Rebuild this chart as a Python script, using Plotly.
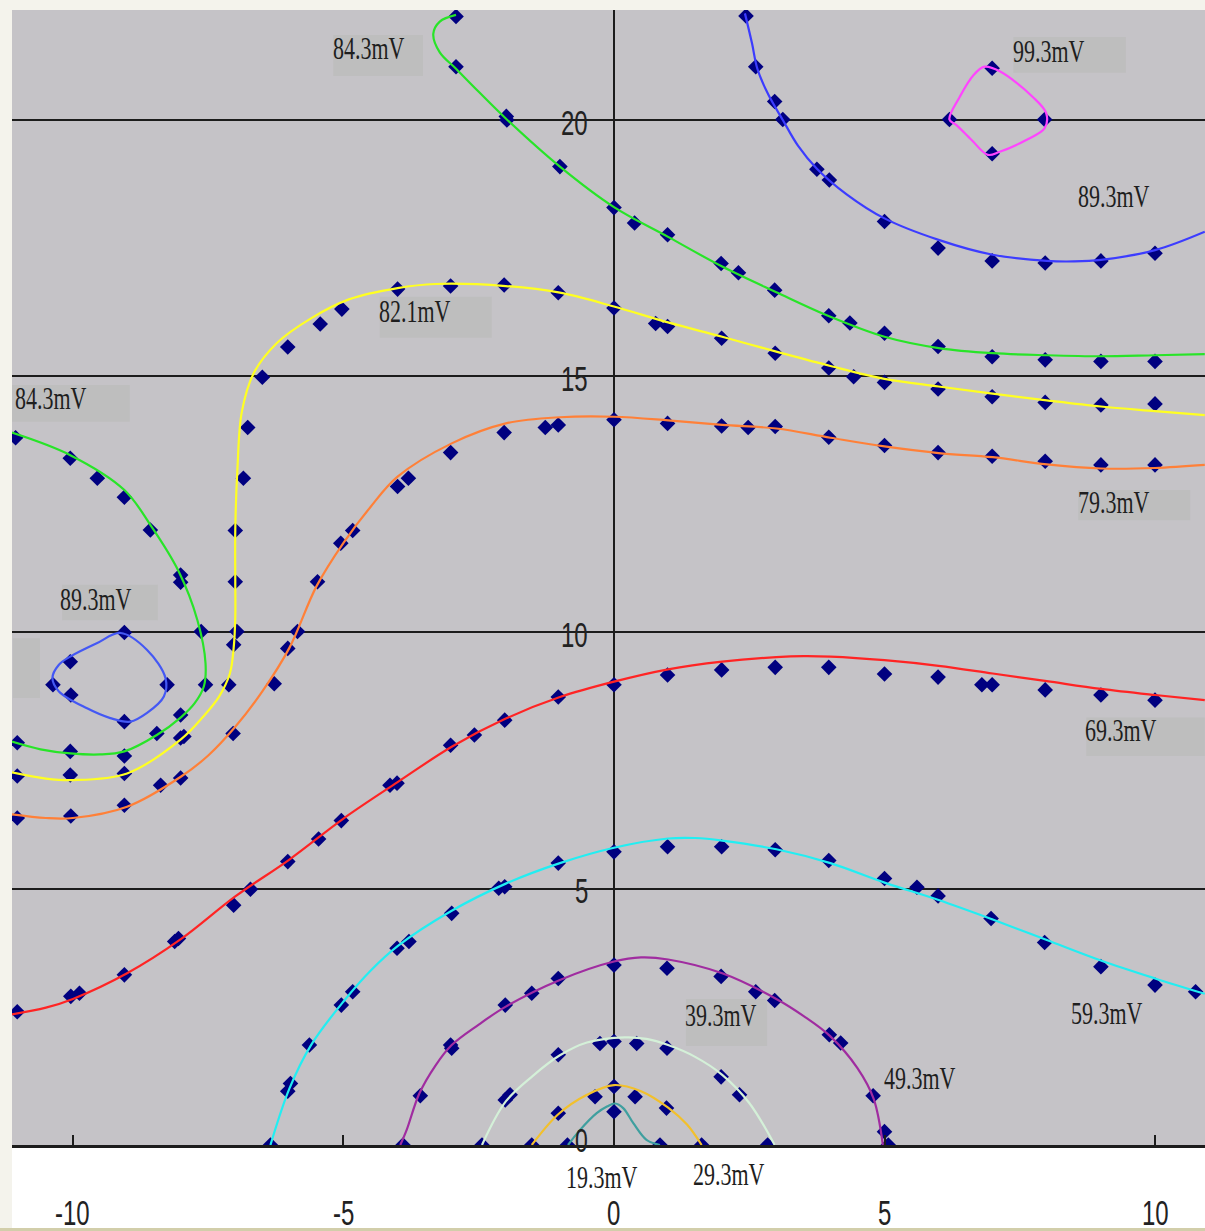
import plotly.graph_objects as go

# ---------------- measured points (x, y) for each equipotential ----------------
P193_X = [-0.86, 0.0, 0.85]
P193_Y = [0.0, 0.65, 0.0]

P293_X = [-1.52, -1.03, -0.35, 0.0, 0.39, 0.97, 1.62]
P293_Y = [0.0, 0.62, 0.94, 1.14, 0.94, 0.72, 0.0]

P393_X = [-2.44, -2.01, -1.92, -1.03, -0.26, 0.0, 0.42, 0.98, 1.98, 2.32, 2.84]
P393_Y = [0.0, 0.88, 0.98, 1.76, 1.98, 2.02, 1.98, 1.89, 1.33, 0.98, 0.0]

P493_X = [-3.9, -3.58, -3.02, -3.0, -2.01, -1.52, -1.03, 0.0, 0.98, 1.98, 2.62,
          2.97, 3.98, 4.19, 4.79, 5.0, 5.07]
P493_Y = [0.0, 0.96, 1.95, 1.89, 2.73, 2.96, 3.25, 3.51, 3.45, 3.29, 2.99,
          2.82, 2.15, 1.99, 0.96, 0.26, 0.0]

P593_X = [-6.35, -6.03, -5.98, -5.63, -5.04, -4.83, -4.01, -3.79, -3.0, -2.13, -2.02,
          -1.03, 0.0, 0.99, 1.99, 2.98, 3.97, 5.0, 5.6, 5.99, 6.97, 7.96, 9.0,
          10.0, 10.75]
P593_Y = [0.0, 1.05, 1.2, 1.95, 2.73, 2.99, 3.84, 3.97, 4.52, 5.01, 5.04,
          5.50, 5.72, 5.82, 5.82, 5.76, 5.55, 5.20, 5.03, 4.86, 4.42, 3.95, 3.48,
          3.12, 2.99]

P693_X = [-11.03, -10.04, -9.88, -9.05, -8.12, -8.05, -7.03, -6.72, -6.03, -5.46,
          -5.04, -4.14, -4.01, -3.02, -2.58, -2.02, -1.03, 0.0, 0.99, 1.99, 2.98,
          3.97, 5.0, 5.99, 6.80, 6.99, 7.97, 9.0, 10.0]
P693_Y = [2.60, 2.90, 2.96, 3.32, 3.97, 4.03, 4.68, 4.99, 5.53, 5.97,
          6.33, 7.02, 7.06, 7.80, 8.0, 8.29, 8.74, 8.98, 9.17, 9.27, 9.32,
          9.32, 9.19, 9.13, 8.98, 8.98, 8.88, 8.78, 8.68]

P793_X = [-11.03, -10.04, -9.05, -8.38, -8.01, -7.04, -6.28, -6.03, -5.85, -5.48,
          -5.05, -4.83, -4.0, -3.80, -3.02, -2.03, -1.27, -1.03, 0.0, 0.99, 1.99,
          2.48, 2.98, 3.97, 5.0, 5.99, 6.99, 7.97, 9.0, 10.0]
P793_Y = [6.38, 6.42, 6.63, 7.02, 7.16, 8.03, 9.0, 9.69, 10.02, 10.99,
          11.74, 11.99, 12.85, 13.01, 13.51, 13.90, 14.0, 14.05, 14.15, 14.08, 14.03,
          14.0, 14.02, 13.81, 13.65, 13.51, 13.44, 13.34, 13.27, 13.27]

P821_X = [-11.03, -10.05, -9.05, -8.01, -7.95, -7.12, -7.03, -6.97, -7.0, -7.0,
          -6.85, -6.77, -6.5, -6.03, -5.43, -5.03, -4.0, -3.02, -2.03, -1.03, 0.0,
          0.77, 0.99, 1.99, 2.98, 3.97, 4.43, 5.0, 5.99, 6.99, 7.97, 9.0, 10.0]
P821_Y = [7.20, 7.22, 7.25, 7.94, 7.97, 8.98, 9.76, 10.02, 10.99, 11.99,
          13.01, 14.0, 14.98, 15.57, 16.02, 16.31, 16.7, 16.76, 16.78, 16.63, 16.33,
          16.03, 15.97, 15.74, 15.45, 15.16, 14.99, 14.88, 14.75, 14.6, 14.49, 14.44, 14.46]

P843_X = [-11.06, -10.05, -9.55, -9.05, -8.57, -8.01, -8.01, -7.63, -7.55, -8.01,
          -8.45, -9.05, -10.05, -11.03,
          -2.92, -2.92, -1.99, -1.98, -1.0, 0.0, 0.38, 0.99, 1.98, 2.3, 2.97,
          3.97, 4.36, 5.0, 5.99, 6.99, 7.97, 9.0, 10.0]
P843_Y = [13.8, 13.4, 13.01, 12.64, 12.0, 11.12, 10.98, 10.02, 8.98, 8.39,
          8.03, 7.59, 7.68, 7.85,
          22.02, 21.04, 20.07, 20.0, 19.09, 18.29, 17.99, 17.76, 17.2, 17.02, 16.68,
          16.18, 16.04, 15.84, 15.58, 15.38, 15.32, 15.29, 15.29]

P893_X = [2.44, 2.62, 2.97, 3.12, 3.75, 3.98, 5.0, 5.99, 6.99, 7.97, 9.0, 10.0,
          -9.05, -10.05, -10.37, -10.04, -9.05, -8.26]
P893_Y = [22.03, 21.04, 20.36, 20.01, 19.04, 18.83, 18.02, 17.5, 17.25, 17.21, 17.25, 17.4,
          10.0, 9.43, 8.98, 8.78, 8.26, 8.98]

P993_X = [6.99, 6.2, 7.96, 6.99]
P993_Y = [21.01, 20.01, 20.01, 19.34]

# ---------------- fitted equipotential curves ----------------
C193_X = [-0.85, -0.63, -0.32, -0.13, 0.02, 0.17, 0.36, 0.6, 0.85]
C193_Y = [0.0, 0.29, 0.62, 0.75, 0.81, 0.72, 0.42, 0.1, 0.0]

C293_X = [-1.52, -1.03, -0.5, 0.0, 0.5, 1.0, 1.35, 1.62]
C293_Y = [0.0, 0.6, 0.98, 1.17, 1.05, 0.73, 0.4, 0.0]

C393_X = [-2.44, -2.0, -1.5, -1.0, -0.5, 0.2, 0.6, 1.0, 1.5, 2.0, 2.5, 2.97]
C393_Y = [0.0, 0.85, 1.35, 1.75, 2.0, 2.1, 2.07, 1.95, 1.72, 1.37, 0.82, 0.0]

C493_X = [-3.95, -3.83, -3.6, -3.3, -3.0, -2.5, -2.0, -1.0, 0.0, 0.5, 1.0, 2.0,
          3.0, 3.5, 4.0, 4.5, 4.8, 4.97]
C493_Y = [0.0, 0.3, 1.0, 1.55, 1.95, 2.35, 2.7, 3.22, 3.58, 3.66, 3.62, 3.35,
          2.85, 2.52, 2.12, 1.5, 0.9, 0.0]

C593_X = [-6.35, -6.0, -5.6, -5.0, -4.5, -4.0, -3.0, -2.0, -1.0, 0.0, 1.0, 1.5,
          2.0, 3.0, 4.0, 5.0, 6.0, 7.0, 8.0, 9.0, 10.0, 10.92]
C593_Y = [0.0, 1.1, 1.95, 2.8, 3.4, 3.88, 4.57, 5.1, 5.5, 5.8, 5.98, 5.99,
          5.94, 5.77, 5.5, 5.12, 4.78, 4.4, 4.0, 3.6, 3.25, 2.95]

C693_X = [-11.13, -10.5, -10.0, -9.0, -8.0, -7.0, -6.0, -5.0, -4.0, -3.0, -2.0,
          -1.0, 0.0, 1.0, 2.0, 3.0, 3.5, 4.0, 5.0, 6.0, 7.0, 8.0, 9.0, 10.0, 10.92]
C693_Y = [2.55, 2.68, 2.85, 3.35, 4.02, 4.85, 5.57, 6.37, 7.08, 7.77, 8.32,
          8.74, 9.04, 9.28, 9.43, 9.52, 9.54, 9.53, 9.46, 9.35, 9.2, 9.05, 8.9, 8.78, 8.68]

C793_X = [-11.13, -10.5, -10.0, -9.0, -8.0, -7.5, -7.0, -6.5, -6.0, -5.5, -5.0,
          -4.5, -4.0, -3.0, -2.0, -1.0, 0.0, 1.0, 2.0, 3.0, 4.0, 5.0, 6.0, 7.0,
          8.0, 9.0, 10.0, 10.92]
C793_Y = [6.45, 6.38, 6.38, 6.6, 7.19, 7.6, 8.16, 8.85, 9.7, 10.9, 11.75,
          12.45, 13.04, 13.69, 14.08, 14.2, 14.21, 14.14, 14.05, 13.98, 13.8, 13.63,
          13.5, 13.42, 13.28, 13.2, 13.21, 13.27]

C821_X = [-11.13, -10.5, -10.0, -9.0, -8.0, -7.6, -7.3, -7.1, -7.03, -7.0, -7.0,
          -7.0, -6.96, -6.88, -6.66, -6.23, -5.6, -4.9, -4.0, -3.3, -2.0, -1.0, 0.0,
          1.0, 2.0, 3.0, 4.0, 5.0, 6.0, 7.0, 8.0, 9.0, 10.0, 10.92]
C821_Y = [7.27, 7.15, 7.12, 7.25, 7.92, 8.35, 8.75, 9.2, 9.7, 10.3, 11.0,
          12.0, 13.2, 14.3, 15.06, 15.65, 16.13, 16.5, 16.72, 16.8, 16.76, 16.63, 16.36,
          16.05, 15.77, 15.48, 15.2, 14.95, 14.8, 14.66, 14.53, 14.41, 14.32, 14.24]

C843A_X = [-11.13, -10.05, -9.05, -8.57, -8.05, -7.7, -7.55, -7.58, -7.75, -8.0,
           -8.45, -9.05, -9.5, -10.05, -10.6, -11.13]
C843A_Y = [13.9, 13.46, 12.78, 12.1, 11.2, 10.24, 9.4, 8.95, 8.62, 8.35,
           8.0, 7.68, 7.62, 7.64, 7.72, 7.87]

C843B_X = [-2.92, -3.22, -3.34, -3.22, -2.92, -2.5, -2.0, -1.0, 0.0, 1.0, 2.0,
           3.0, 4.0, 5.0, 6.0, 7.0, 8.0, 9.0, 10.0, 10.92]
C843B_Y = [22.05, 21.92, 21.68, 21.32, 21.0, 20.55, 20.03, 19.09, 18.3, 17.72, 17.14,
           16.64, 16.16, 15.77, 15.55, 15.45, 15.41, 15.39, 15.41, 15.43]

C893A_X = [2.42, 2.55, 2.65, 2.85, 3.12, 3.4, 3.75, 4.3, 5.0, 6.0, 7.0, 8.0, 8.5,
           9.0, 10.0, 10.92]
C893A_Y = [22.08, 21.5, 21.0, 20.5, 20.0, 19.5, 19.05, 18.55, 18.08, 17.66, 17.37,
           17.25, 17.24, 17.27, 17.46, 17.82]

C893B_X = [-9.12, -8.63, -8.29, -8.32, -8.63, -8.94, -9.31, -9.74, -10.26, -10.38,
           -10.26, -10.05, -9.56, -9.12]
C893B_Y = [9.99, 9.66, 9.11, 8.75, 8.43, 8.26, 8.33, 8.52, 8.85, 9.11,
           9.37, 9.53, 9.79, 9.99]

C993_X = [6.2, 6.39, 6.64, 6.85, 7.13, 7.74, 7.99, 7.96, 7.62, 7.13, 6.91, 6.61, 6.33, 6.2]
C993_Y = [20.01, 20.45, 20.87, 21.04, 20.95, 20.45, 20.13, 19.84, 19.61, 19.38,
          19.32, 19.61, 19.9, 20.01]

# ---------------- labels ----------------
LEVEL_TEXT = ["84.3mV", "99.3mV", "89.3mV", "82.1mV", "84.3mV", "79.3mV",
              "89.3mV", "69.3mV", "59.3mV", "39.3mV", "49.3mV", "19.3mV", "29.3mV"]
LEVEL_POS_X = [-4.52, 8.04, 9.24, -3.68, -10.41, 9.24, -9.57, 9.38, 9.12, 1.98, 5.65, -0.22, 2.12]
LEVEL_POS_Y = [21.40, 21.34, 18.50, 16.26, 14.56, 12.53, 10.64, 8.08, 2.56, 2.52, 1.29, -0.64, -0.566]

X_TICKS = [-10, -5, 0, 5, 10]
Y_TICKS = [20, 15, 10, 5, 0]
Y_TICK_NUDGE = [-0.04, -0.04, -0.04, -0.04, 0.1]

# label background boxes (x0, x1, y0, y1)
BOX_X0 = [-5.19, 7.38, -4.33, -11.13, 8.58, -10.2, -11.11, 8.73, 1.33]
BOX_X1 = [-3.53, 9.46, -2.26, -8.95, 10.65, -8.43, -10.61, 10.92, 2.83]
BOX_Y0 = [20.86, 20.92, 15.75, 14.11, 12.19, 10.24, 8.72, 7.59, 1.93]
BOX_Y1 = [21.66, 21.62, 16.55, 14.83, 12.78, 10.93, 9.89, 8.34, 2.85]

MARKER_COLOR = "#000080"
Y_MAX = 22.146

fig = go.Figure()

point_sets = [(P193_X, P193_Y), (P293_X, P293_Y), (P393_X, P393_Y), (P493_X, P493_Y),
              (P593_X, P593_Y), (P693_X, P693_Y), (P793_X, P793_Y), (P821_X, P821_Y),
              (P843_X, P843_Y), (P893_X, P893_Y), (P993_X, P993_Y)]
for px, py in point_sets:
    fig.add_trace(go.Scatter(x=px, y=py, mode="markers",
                             marker=dict(symbol="diamond", size=12, color=MARKER_COLOR,
                                         line=dict(width=0)),
                             hoverinfo="skip", showlegend=False))

curves = [
    (C193_X, C193_Y, "#3f9f9f"),
    (C293_X, C293_Y, "#f2c02c"),
    (C393_X, C393_Y, "#d4f0d8"),
    (C493_X, C493_Y, "#a02ca0"),
    (C593_X, C593_Y, "#22eef2"),
    (C693_X, C693_Y, "#ff2424"),
    (C793_X, C793_Y, "#ff8038"),
    (C821_X, C821_Y, "#ffff22"),
    (C843A_X, C843A_Y, "#28e428"),
    (C843B_X, C843B_Y, "#28e428"),
    (C893A_X, C893A_Y, "#3c3cff"),
    (C893B_X, C893B_Y, "#4458f4"),
    (C993_X, C993_Y, "#ff44ff"),
]
for cx, cy, col in curves:
    fig.add_trace(go.Scatter(x=cx, y=cy, mode="lines",
                             line=dict(color=col, width=2.2, shape="spline", smoothing=1.0),
                             hoverinfo="skip", showlegend=False))

shapes = []
for x0, x1, y0, y1 in zip(BOX_X0, BOX_X1, BOX_Y0, BOX_Y1):
    shapes.append(dict(type="rect", xref="x", yref="y", x0=x0, x1=x1, y0=y0, y1=y1,
                       fillcolor="#bebebe", line=dict(width=0), layer="between"))
# white strip under the axis and the thin beige rule at the very bottom
shapes.append(dict(type="rect", xref="paper", yref="paper", x0=0, x1=1,
                   y0=-0.0731, y1=0, fillcolor="#ffffff", line=dict(width=0), layer="below"))
shapes.append(dict(type="rect", xref="paper", yref="paper", x0=-0.0101, x1=1,
                   y0=-0.0770, y1=-0.0731, fillcolor="#d2ceaa", line=dict(width=0), layer="below"))


def yp(v):
    # data y -> paper fraction, so text below the axis range stays visible
    return v / Y_MAX


annotations = []
for t, ax, ay in zip(LEVEL_TEXT, LEVEL_POS_X, LEVEL_POS_Y):
    annotations.append(dict(x=ax, y=yp(ay), xref="x", yref="paper", text=t, showarrow=False,
                            xanchor="center", yanchor="middle",
                            font=dict(family="Liberation Serif", size=22, color="#1e1e1e")))
for v, dv in zip(Y_TICKS, Y_TICK_NUDGE):
    annotations.append(dict(x=-0.44, y=yp(v + dv), xref="x", yref="paper", text=str(v),
                            showarrow=False, xanchor="right", yanchor="middle",
                            font=dict(family="Liberation Sans", size=23 if v == 0 else 24,
                                      color="#222222")))
for v in X_TICKS:
    annotations.append(dict(x=v, y=yp(-1.31), xref="x", yref="paper", text=str(v),
                            showarrow=False, xanchor="center", yanchor="middle",
                            font=dict(family="Liberation Sans", size=24, color="#222222")))

fig.update_layout(
    width=1205, height=1231,
    margin=dict(l=12, r=0, t=10, b=86),
    paper_bgcolor="#f4f3ec",
    plot_bgcolor="#c5c3c7",
    shapes=shapes,
    annotations=annotations,
    showlegend=False,
    xaxis=dict(range=[-11.127, 10.924], showgrid=False,
               zeroline=True, zerolinecolor="#1c1c1c", zerolinewidth=2,
               showline=True, linecolor="#1c1c1c", linewidth=3,
               ticks="inside", ticklen=10, tickwidth=2, tickcolor="#1c1c1c",
               tickvals=X_TICKS, showticklabels=False, fixedrange=True),
    yaxis=dict(range=[0, Y_MAX], showgrid=True, gridcolor="#1c1c1c", gridwidth=2,
               tickvals=[5, 10, 15, 20], zeroline=False, showline=False,
               showticklabels=False, ticks="", fixedrange=True),
)

stretch_js = """
var s = document.createElement('style');
s.textContent = '.annotation-text{transform-box:fill-box;transform-origin:50% 50%;transform:scaleY(1.45);}';
document.head.appendChild(s);
"""

fig.write_html("out.html", post_script=stretch_js, config={"displayModeBar": False})
